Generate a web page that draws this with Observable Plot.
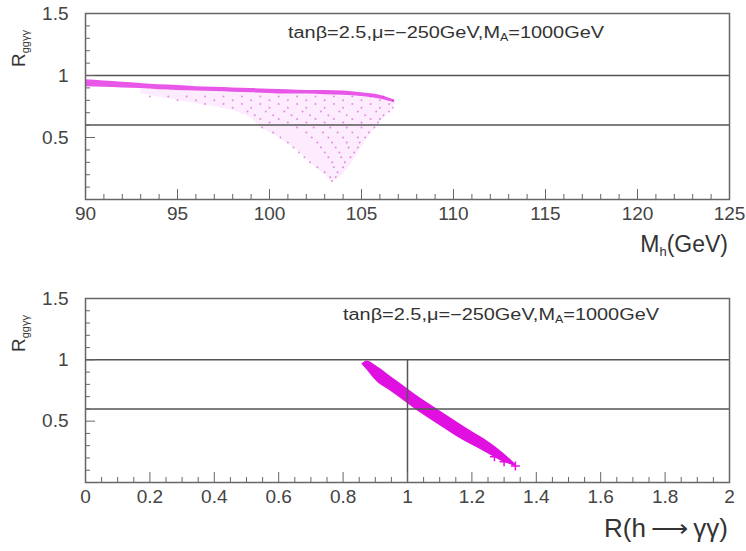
<!DOCTYPE html>
<html><head><meta charset="utf-8">
<script src="https://cdn.jsdelivr.net/npm/d3@7"></script>
<script src="https://cdn.jsdelivr.net/npm/@observablehq/plot@0.6"></script>
<style>
body{margin:0;background:#fff;}
#chart svg{display:block;}
</style></head><body><div id="chart"></div>
<script>
// ---------- data ----------
// top panel: dense band (upper / lower edge)
const bandMh    = [90, 91, 92, 93, 94, 95, 96, 97, 98, 99, 100, 101, 102, 103, 104, 105, 106, 106.8];
const bandUpper = [0.965,0.955,0.945,0.935,0.925,0.92,0.91,0.905,0.9,0.895,0.89,0.885,0.88,0.88,0.875,0.86,0.84,0.8];
const bandLower = [0.91,0.905,0.9,0.895,0.885,0.88,0.875,0.87,0.865,0.86,0.855,0.85,0.85,0.845,0.84,0.83,0.81,0.78];
// top panel: faint envelope of the scattered fan
const envMh   = [93, 95, 96.5, 98, 99, 99.5, 100.5, 101.5, 102.2, 103, 103.4, 104, 104.5, 105, 105.5, 106, 106.5, 106.9];
const envHigh = [0.895,0.88,0.872,0.865,0.86,0.858,0.853,0.85,0.85,0.845,0.843,0.84,0.835,0.83,0.82,0.81,0.795,0.78];
const envLow  = [0.85,0.80,0.76,0.72,0.66,0.58,0.50,0.40,0.30,0.20,0.14,0.20,0.30,0.42,0.53,0.62,0.70,0.78];
// top panel: scattered scan points (R level and the Mh values on it)
const fanLevels = [0.83,0.80,0.77,0.74,0.71,0.68,0.65,0.62,0.58,0.54,0.50,0.46,0.42,0.38,0.34,0.30,0.26,0.22,0.18,0.15];
const fanMh = [
  [93.5,94.5,95.5,96.5,97.5,98.5,99.5,100.5,101.5,102.5,103.5,104.5,105.5,106.2],
  [95,96,97,98,99,100,101,102,103,104,105,106,106.7],
  [96.5,97.5,98.5,99.5,100.5,101.5,102.5,103.5,104.5,105.5,106.5],
  [98,99,100,101,102,103,104,105,106,106.7],
  [98.8,99.8,100.8,101.8,102.8,103.8,104.8,105.8,106.5],
  [99.2,100.2,101.2,102.2,103.2,104.2,105.2,106.2],
  [99.5,100.5,101.5,102.5,103.5,104.5,105.5,106],
  [100,101,102,103,104,105,105.9],
  [99.6,101.5,102.4,103.3,104.2,105,105.7],
  [100.2,102,102.9,103.7,104.5,105.4],
  [100.6,102.3,103.2,104,104.8,105.2],
  [101,102.6,103.4,104.2,104.9],
  [101.3,102.8,103.6,104.3,104.8],
  [101.6,103,103.8,104.6],
  [101.9,103.2,103.9,104.4],
  [102.2,103.4,104.1],
  [102.6,103.5,104],
  [103,103.7],
  [103.3,103.6],
  [103.4]
];
// bottom panel: band of R(h->gg gamma gamma) vs R(h->gamma gamma)
const rgg      = [0.858,0.875,0.9,0.95,1.0,1.05,1.1,1.15,1.2,1.25,1.3,1.335];
const rUpper   = [0.965,0.99,0.955,0.86,0.765,0.67,0.585,0.5,0.415,0.335,0.235,0.15];
const rLower   = [0.965,0.915,0.835,0.74,0.645,0.55,0.465,0.38,0.305,0.235,0.165,0.13];
const tailX    = [1.27, 1.3, 1.335];
const tailY    = [0.21, 0.17, 0.135];
// reference lines
const refLevels = [1, 0.6];
const refX = [1];
const refXTop = 1;
// ticks
const topMajorX = [90,95,100,105,110,115,120,125];
const topMinorX = [91,92,93,94,96,97,98,99,101,102,103,104,106,107,108,109,111,112,113,114,116,117,118,119,121,122,123,124];
const botMajorX = [0,0.2,0.4,0.6,0.8,1,1.2,1.4,1.6,1.8,2];
const botMinorX = [0.05,0.1,0.15,0.25,0.3,0.35,0.45,0.5,0.55,0.65,0.7,0.75,0.85,0.9,0.95,1.05,1.1,1.15,1.25,1.3,1.35,1.45,1.5,1.55,1.65,1.7,1.75,1.85,1.9,1.95];
const majorY = [0.5, 1, 1.5];
const minorY = [0.1,0.2,0.3,0.4,0.6,0.7,0.8,0.9,1.1,1.2,1.3,1.4];

// ---------- helpers ----------
const font = "'Liberation Sans',Arial,sans-serif";
const magenta = "#e010e0";
const fmt = d => String(d);

function axes(xMajor, xMinor) {
  return [
    Plot.axisX(xMinor, {tickSize: -5, tickFormat: () => "", label: null, stroke: "#666"}),
    Plot.axisX(xMajor, {tickSize: -10, tickPadding: 17, tickFormat: fmt, label: null, stroke: "#666", fill: "#444", fontSize: 19}),
    Plot.axisY(minorY, {tickSize: -5, tickFormat: () => "", label: null, stroke: "#666"}),
    Plot.axisY(majorY, {tickSize: -10, tickPadding: 27, tickFormat: fmt, label: null, stroke: "#666", fill: "#444", fontSize: 19})
  ];
}

function richText(svg, {x, y, anchor = "start", size, rotate = 0, parts, textLength}) {
  const t = d3.select(svg).append("text")
    .attr("transform", `translate(${x},${y}) rotate(${rotate})`)
    .attr("text-anchor", anchor)
    .attr("font-family", font)
    .attr("font-size", size)
    .attr("fill", "#333");
  for (const p of parts) {
    t.append("tspan").attr("font-size", p.size || size).attr("dy", p.dy || 0).text(p.text);
  }
  if (textLength) t.attr("textLength", textLength).attr("lengthAdjust", "spacingAndGlyphs");
  return t;
}

// ---------- top panel ----------
const bandData = bandMh.map((mh, i) => ({mh, hi: bandUpper[i], lo: bandLower[i]}));
const envData = envMh.map((mh, i) => ({mh, hi: envHigh[i], lo: envLow[i]}));
const fanData = fanLevels.flatMap((r, i) => fanMh[i].map(mh => ({mh, r})));

const topChart = Plot.plot({
  width: 746, height: 280,
  marginLeft: 85, marginRight: 17, marginTop: 13, marginBottom: 81,
  style: {fontFamily: font, fontSize: "19px", color: "#444", background: "#fff", overflow: "visible"},
  x: {domain: [90, 125], axis: null},
  y: {domain: [0, 1.5], axis: null},
  marks: [
    Plot.areaY(envData, {x: "mh", y1: "lo", y2: "hi", fill: magenta, fillOpacity: 0.08}),
    Plot.dot(fanData, {x: "mh", y: "r", r: 1, fill: "#c830c8", fillOpacity: 0.5}),
    Plot.areaY(bandData, {x: "mh", y1: "lo", y2: "hi", fill: magenta, fillOpacity: 0.7, curve: "monotone-x"}),
    Plot.ruleY(refLevels, {stroke: "#555", strokeWidth: 1.5}),
    ...axes(topMajorX, topMinorX),
    Plot.frame({stroke: "#666", strokeWidth: 1.5})
  ]
});

// ---------- bottom panel ----------
const rData = rgg.map((x, i) => ({x, hi: rUpper[i], lo: rLower[i]}));
const tailData = tailX.map((x, i) => ({x, y: tailY[i]}));

const bottomChart = Plot.plot({
  width: 746, height: 271,
  marginLeft: 85, marginRight: 17, marginTop: 18, marginBottom: 69,
  style: {fontFamily: font, fontSize: "19px", color: "#444", background: "#fff", overflow: "visible"},
  x: {domain: [0, 2], axis: null},
  y: {domain: [0, 1.5], axis: null},
  marks: [
    Plot.areaY(rData, {x: "x", y1: "lo", y2: "hi", fill: magenta, curve: "monotone-x"}),
    Plot.dot(tailData, {x: "x", y: "y", symbol: "plus", r: 3, stroke: magenta, strokeWidth: 1.5}),
    Plot.ruleY(refLevels, {stroke: "#555", strokeWidth: 1.5}),
    Plot.ruleX(refX, {y1: 0, y2: refXTop, stroke: "#555", strokeWidth: 1.5}),
    ...axes(botMajorX, botMinorX),
    Plot.frame({stroke: "#666", strokeWidth: 1.5})
  ]
});

// ---------- texts ----------
richText(topChart, {x: 728, y: 252, anchor: "end", size: 23, parts: [
  {text: "M"}, {text: "h", size: 13, dy: 4}, {text: "(GeV)", dy: -4}]});
richText(topChart, {x: 25, y: 67, rotate: -90, size: 19, parts: [
  {text: "R"}, {text: "ggγγ", size: 11, dy: 4}]});
richText(topChart, {x: 288, y: 38, size: 16, textLength: 316, parts: [
  {text: "tanβ=2.5,μ=−250GeV,M"}, {text: "A", size: 10, dy: 3}, {text: "=1000GeV", dy: -3}]});

richText(bottomChart, {x: 728, y: 257, anchor: "end", size: 26, parts: [
  {text: "R(h\u2009⟶\u2009γγ)"}]});
richText(bottomChart, {x: 25, y: 72, rotate: -90, size: 19, parts: [
  {text: "R"}, {text: "ggγγ", size: 11, dy: 4}]});
richText(bottomChart, {x: 343, y: 40, size: 16, textLength: 316, parts: [
  {text: "tanβ=2.5,μ=−250GeV,M"}, {text: "A", size: 10, dy: 3}, {text: "=1000GeV", dy: -3}]});

document.getElementById("chart").append(topChart, bottomChart);
</script>
</body></html>
